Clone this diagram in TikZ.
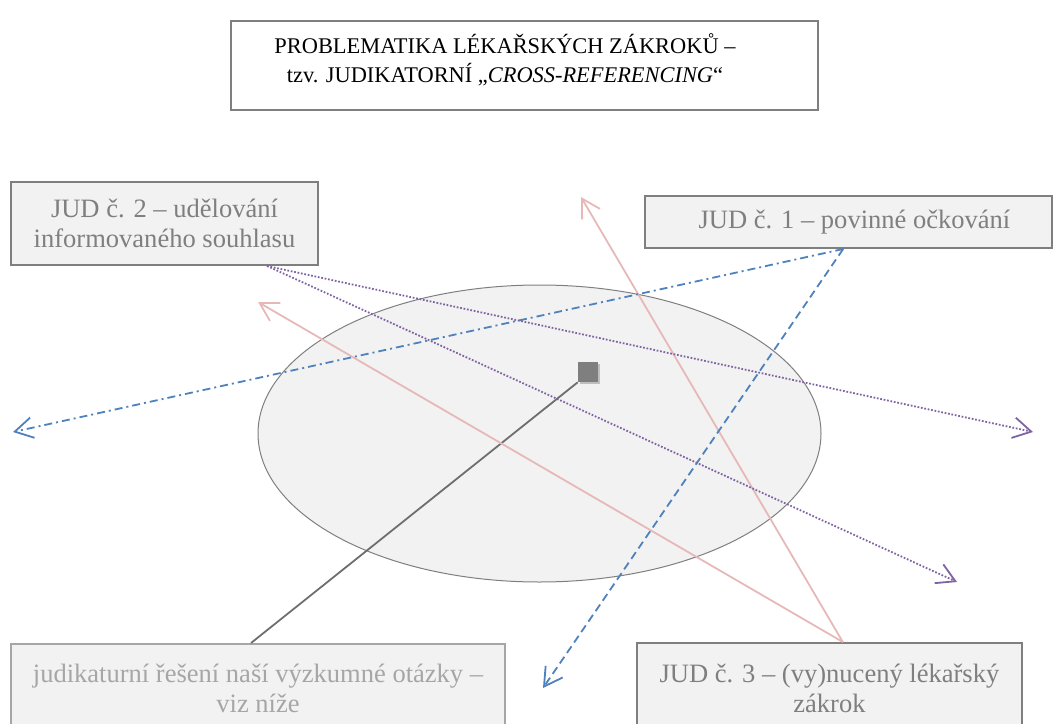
\documentclass[tikz,border=0pt]{standalone}
\usepackage{fontspec}
\setmainfont{Liberation Serif}
\usetikzlibrary{arrows.meta,positioning,shapes.geometric,shadows}

\definecolor{boxfill}{HTML}{F2F2F2}
\definecolor{boxedge}{HTML}{7F7F7F}
\definecolor{paleedge}{HTML}{A6A6A6}
\definecolor{rosered}{HTML}{E6B9B8}
\definecolor{steelblue}{HTML}{4F81BD}
\definecolor{plum}{HTML}{8064A2}
\definecolor{spoke}{HTML}{6E6E6E}

\tikzset{
  judbox/.style={draw=boxedge, fill=boxfill, line width=1.5pt, text=boxedge,
    align=center, inner sep=0pt, font=\fontsize{19.9}{22.5}\selectfont},
  openhead/.style={-{Straight Barb[length=13.5pt,width=15.5pt]}, line width=1.35pt},
  rose/.style={openhead, draw=rosered},
  blueline/.style={openhead, draw=steelblue},
  plumline/.style={openhead, draw=plum, dash pattern=on 1.3pt off 1.3pt}
}

\begin{document}
\begin{tikzpicture}[x=0.75pt, y=-0.75pt]
  \useasboundingbox (0,0) rectangle (1053,724);

  \node[draw=boxedge, line width=1.5pt, minimum width=440.25pt, minimum height=66.75pt] (title) at (524.5,65.5) {};
  \node[font=\fontsize{16.8}{21.5}\selectfont, align=center] (titletext) at (505,60)
    {PROBLEMATIKA LÉKAŘSKÝCH ZÁKROKŮ –\\tzv. JUDIKATORNÍ „\textit{CROSS-REFERENCING}“};

  \node[ellipse, draw=boxedge, fill=boxfill, line width=0.75pt, inner sep=0pt,
    minimum width=422.25pt, minimum height=222.75pt] (field) at (539.5,433.5) {};
  \node[fill=boxedge, minimum size=15pt, inner sep=0pt,
    drop shadow={shadow xshift=1.2pt, shadow yshift=-1.2pt, fill=black!25, opacity=1}] (hub) at (588,372) {};

  \node[judbox, minimum width=230.25pt, minimum height=62.25pt] (jud2) at (164.5,223.5)
    {JUD č. 2 – udělování\\informovaného souhlasu};
  \node[judbox, minimum width=305.25pt, minimum height=39pt] (jud1) at (848.5,222)
    {\hspace*{9pt}JUD č. 1 – povinné očkování};
  \node[judbox, minimum width=288.75pt, minimum height=67.5pt] (jud3) at (829.5,688)
    {JUD č. 3 – (vy)nucený lékařský\\zákrok};
  \node[judbox, draw=paleedge, text=paleedge, minimum width=370.5pt, minimum height=66.75pt] (res) at (258,688.5)
    {judikaturní řešení naší výzkumné otázky –\\viz níže};

  \coordinate (r1) at (581,197);
  \coordinate (r2) at (258,302);
  \coordinate (b1) at (13,432);
  \coordinate (b2) at (543,688);
  \coordinate (p1) at (1033,432);
  \coordinate (p2) at (957,582);

  \draw[spoke, line width=1.35pt] (hub.south west) -- ([xshift=-5.25pt]res.north);
  \draw[rose] ([xshift=10pt]jud3.north) -- (r1);
  \draw[rose] ([xshift=10pt]jud3.north) -- (r2);
  \draw[blueline, dash pattern=on 6pt off 3pt on 1.5pt off 3pt] ([xshift=-4pt]jud1.south) -- (b1);
  \draw[blueline, dash pattern=on 6pt off 3.5pt] ([xshift=-4pt]jud1.south) -- (b2);
  \draw[plumline] ([xshift=76.9pt]jud2.south) -- (p1);
  \draw[plumline] ([xshift=76.9pt]jud2.south) -- (p2);
\end{tikzpicture}
\end{document}
